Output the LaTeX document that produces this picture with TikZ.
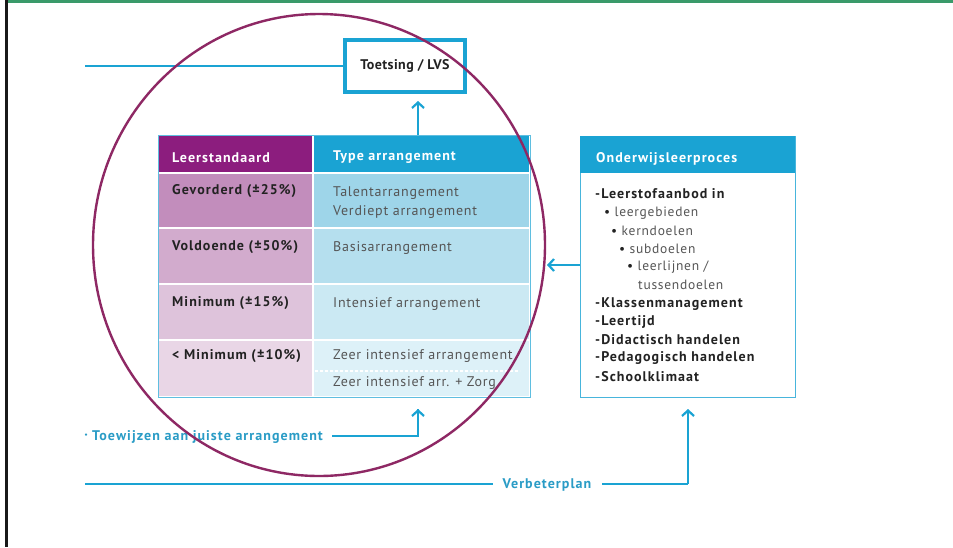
\documentclass[tikz,border=0pt]{standalone}
\usepackage{fontspec}
\setmainfont{PT Sans}
\newfontfamily\wideB[LetterSpace=7.5]{PT Sans}
\newfontfamily\wideR[LetterSpace=5.5]{PT Sans}
\newfontfamily\wideT[LetterSpace=3]{PT Sans}
\usetikzlibrary{arrows.meta,shapes.geometric}
\definecolor{cyanA}{HTML}{1AA3D3}
\definecolor{cyanT}{HTML}{2A9CC6}
\definecolor{purpH}{HTML}{8C1D7E}
\definecolor{purp1}{HTML}{C28DBC}
\definecolor{purp2}{HTML}{D2ABCD}
\definecolor{purp3}{HTML}{DEC3DB}
\definecolor{purp4}{HTML}{E9D6E6}
\definecolor{blu1}{HTML}{9ED5E9}
\definecolor{blu2}{HTML}{B5DFEE}
\definecolor{blu3}{HTML}{CBE9F3}
\definecolor{blu4}{HTML}{DDF1F8}
\definecolor{ring}{HTML}{8E2864}
\definecolor{greenbar}{HTML}{3A9A6A}
\definecolor{bodytxt}{HTML}{222222}
\definecolor{graytxt}{HTML}{555555}
\tikzset{
  cell/.style={draw=white, line width=1.5pt, anchor=north west, inner sep=0pt, outer sep=0pt},
  lt/.style={anchor=west, yshift=-1.5pt, inner sep=0pt, font=\wideB\fontsize{14}{16}\selectfont\bfseries, text=bodytxt},
  rt/.style={anchor=west, yshift=-1.5pt, inner sep=0pt, font=\wideR\fontsize{14}{16}\selectfont, text=graytxt},
  ht/.style={anchor=west, yshift=-1.5pt, inner sep=0pt, font=\wideB\fontsize{14}{16}\selectfont\bfseries, text=white},
  bt/.style={anchor=west, yshift=-1pt, inner sep=0pt, font=\wideB\fontsize{14}{16}\selectfont\bfseries, text=bodytxt},
  st/.style={anchor=west, yshift=-1pt, inner sep=0pt, font=\wideR\fontsize{13.5}{16}\selectfont, text=graytxt},
  conn/.style={draw=cyanA, line width=2.4pt},
  arr/.style={conn, -{Straight Barb[length=5.5pt,width=12pt,line width=2.2pt]}},
  lbl/.style={inner sep=0pt, yshift=-1pt, font=\wideB\fontsize{14}{16}\selectfont\bfseries, text=cyanT},
}
\begin{document}
\begin{tikzpicture}[x=1pt,y=-1pt]
\useasboundingbox (0,0) rectangle (953,547);
\fill[white] (0,0) rectangle (953,547);
\fill[greenbar] (7,0) rectangle (953,3);
\draw[line width=2.5pt, black!90] (6.5,0) -- (6.5,547);

% Toetsing box
\node[draw=cyanA, line width=4pt, minimum width=120pt, minimum height=52pt, inner sep=0pt,
      font=\wideT\fontsize{14}{16}\selectfont\bfseries, text=bodytxt] (toets) at (405,66) {\raisebox{-1.5pt}{Toetsing / LVS}};
\coordinate (lstart) at (85,66);
\draw[conn, line width=2.6pt] (lstart) -- (toets.west);

% table cells
\node[cell, fill=purpH, minimum width=155pt, minimum height=38pt] (h1) at (158,135) {};
\node[cell, fill=cyanA, minimum width=217pt, minimum height=38pt] (h2) at (313,135) {};
\node[cell, fill=purp1, minimum width=155pt, minimum height=55pt] (l1) at (158,173) {};
\node[cell, fill=blu1, minimum width=217pt, minimum height=55pt] (r1) at (313,173) {};
\node[cell, fill=purp2, minimum width=155pt, minimum height=56pt] (l2) at (158,228) {};
\node[cell, fill=blu2, minimum width=217pt, minimum height=56pt] (r2) at (313,228) {};
\node[cell, fill=purp3, minimum width=155pt, minimum height=56pt] (l3) at (158,284) {};
\node[cell, fill=blu3, minimum width=217pt, minimum height=56pt] (r3) at (313,284) {};
\node[cell, fill=purp4, minimum width=155pt, minimum height=57pt] (l4) at (158,340) {};
\node[cell, fill=blu4, minimum width=217pt, minimum height=57pt] (r4) at (313,340) {};
\draw[cyanA!70, line width=0.8pt] (h1.north west) rectangle (r4.south east);
\coordinate (dl) at (315,371);
\coordinate (dr) at (520,371);
\draw[white, line width=1.2pt, dash pattern=on 3pt off 2pt] (dl) -- (dr);

\node[ht] (th1) at (172,156) {Leerstandaard};
\node[ht] (th2) at (333,156) {Type arrangement};
\node[lt] (tl1) at (172,190) {Gevorderd (±25\%)};
\node[lt] (tl2) at (172,246) {Voldoende (±50\%)};
\node[lt] (tl3) at (172,302) {Minimum (±15\%)};
\node[lt] (tl4) at (172,355) {< Minimum (±10\%)};
\node[rt] (tr1a) at (333,192) {Talentarrangement};
\node[rt] (tr1b) at (333,211) {Verdiept arrangement};
\node[rt] (tr2) at (333,247) {Basisarrangement};
\node[rt] (tr3) at (333,303) {Intensief arrangement};
\node[rt] (tr4a) at (333,355) {Zeer intensief arrangement};
\node[rt] (tr4b) at (333,382) {Zeer intensief arr. + Zorg};

% Onderwijsleerproces box
\node[draw=cyanA!80, line width=1pt, anchor=north west, minimum width=215pt, minimum height=261pt, inner sep=0pt] (olp) at (580,136) {};
\node[fill=cyanA, anchor=north west, minimum width=215pt, minimum height=37pt, inner sep=0pt] (olph) at (580,136) {};
\node[ht] (olpt) at (596,157) {Onderwijsleerproces};
\node[bt] (o1) at (595,193) {-Leerstofaanbod in};
\node[st] (o2) at (604,212) {\textcolor{bodytxt}{•} leergebieden};
\node[st] (o3) at (611,230) {\textcolor{bodytxt}{•} kerndoelen};
\node[st] (o4) at (619,248) {\textcolor{bodytxt}{•} subdoelen};
\node[st] (o5) at (627,266) {\textcolor{bodytxt}{•} leerlijnen /};
\node[st] (o6) at (638,284) {tussendoelen};
\node[bt] (o7) at (595,303) {-Klassenmanagement};
\node[bt] (o8) at (595,321) {-Leertijd};
\node[bt] (o9) at (595,339) {-Didactisch handelen};
\node[bt] (o10) at (595,357) {-Pedagogisch handelen};
\node[bt] (o11) at (595,376) {-Schoolklimaat};

% connectors
\coordinate (upA) at (418,135);
\coordinate (upAt) at (418,101);
\draw[arr] (upA) -- (upAt);
\coordinate (lftt) at (547,265);
\draw[arr] (olp.west |- 0,265) -- (lftt);

\node[lbl, anchor=west] (toew) at (92,436) {Toewijzen aan juiste arrangement};
\node[lbl, anchor=east] (dot) at (88,436) {·};
\coordinate (tw) at (418,436);
\coordinate (twt) at (418,409);
\draw[conn] ([xshift=9pt,yshift=1pt]toew.east) -- (tw) -- (twt);
\draw[arr] (tw) -- (twt);

\node[lbl] (verb) at (547,484) {Verbeterplan};
\coordinate (vstart) at (85,484);
\coordinate (vc) at (688,484);
\coordinate (vt) at (688,409);
\coordinate (vl) at (493,484);
\coordinate (vr) at (602,484);
\draw[conn] (vstart) -- (vl);
\draw[conn] (vr) -- (vc);
\draw[arr] (vc) -- (vt);

% ring
\node[draw=ring, line width=2.4pt, ellipse, minimum width=452pt, minimum height=462pt, inner sep=0pt] (circ) at (319,245) {};
\end{tikzpicture}
\end{document}
